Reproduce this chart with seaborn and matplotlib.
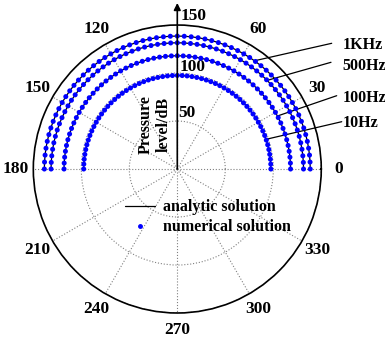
import numpy as np
import pandas as pd
import matplotlib
matplotlib.use("Agg")
import matplotlib.pyplot as plt
import seaborn as sns

# radii (dB) of each frequency curve
frequencies = ["10Hz", "100Hz", "500Hz", "1KHz"]
levels = [97.5, 118.0, 131.5, 138.5]
angles_deg = np.arange(0, 181, 3)

angle_ticks = [0, 30, 60, 90, 120, 150, 180, 210, 240, 270, 300, 330]
angle_labels = ["0", "30", "60", "", "120", "150", "180", "210", "240", "270", "300", "330"]
r_ticks = [50, 100, 150]

# table for seaborn
rows = []
for f, lv in zip(frequencies, levels):
    for a in angles_deg:
        rows.append({"freq": f, "theta": np.deg2rad(a), "level": lv})
df = pd.DataFrame(rows)

sns.set_style("white")
plt.rcParams["font.family"] = ["Liberation Serif", "DejaVu Serif"]
plt.rcParams["font.weight"] = "bold"
plt.rcParams["text.color"] = "black"
plt.rcParams["xtick.color"] = "black"
plt.rcParams["ytick.color"] = "black"
FS = 12.5   # numbers
FT = 11.5   # words
plt.rcParams["font.size"] = FS

fig = plt.figure(figsize=(3.85, 3.42), dpi=100)
ax = fig.add_axes([0.0865, 0.0848, 0.748, 0.842], projection="polar")

# analytic solution lines
for f in frequencies:
    sub = df[df["freq"] == f]
    sns.lineplot(x=sub["theta"], y=sub["level"], ax=ax, color="black", lw=0.9,
                 sort=False, estimator=None, legend=False)
# numerical solution dots
sns.scatterplot(data=df, x="theta", y="level", ax=ax, color="#0000ff", s=13,
                edgecolor="none", legend=False, zorder=5)

ax.set_ylim(0, 150)
ax.set_xlabel("")
ax.set_ylabel("")
ax.set_thetagrids(angle_ticks, angle_labels, fontweight="bold", fontsize=FS,
                  color="black")
ax.tick_params(axis="x", pad=2)
ax.set_rgrids(r_ticks, labels=[""] * len(r_ticks))
ax.grid(True, color="gray", linestyle=":", linewidth=0.8)
ax.spines["polar"].set_linewidth(1.2)
ax.spines["polar"].set_color("black")

# radial labels along the vertical axis
for rv, rr, aa in zip(r_ticks, [59, 107, 160], [80, 81.5, 84]):
    ax.text(np.deg2rad(aa), rr, str(rv), ha="center", va="center",
            fontsize=FS, fontweight="bold")

# vertical arrow
ax.annotate("", xy=(np.pi / 2, 173), xytext=(0, 0),
            arrowprops=dict(arrowstyle="-|>", color="black", lw=1.2,
                            mutation_scale=10, shrinkA=0, shrinkB=0),
            annotation_clip=False, zorder=6)
ax.text(np.deg2rad(117), 52, "Pressure\nlevel/dB", rotation=90, ha="center",
        va="center", fontsize=FT, fontweight="bold", linespacing=1.2)

# curve labels with leader lines
label_y = [0.640, 0.713, 0.807, 0.868]
point_angles = [18.5, 27.9, 44.6, 54.5]
line_start = [(341.7, 121.7), (336.7, 95.7), (331, 62.3), (331.7, 43.3)]
for f, lv, pa, ty, (lx, ly) in zip(frequencies, levels, point_angles, label_y, line_start):
    ax.annotate("", xy=(np.deg2rad(pa), lv), xytext=(lx / 385, 1 - ly / 342),
                textcoords="figure fraction",
                arrowprops=dict(arrowstyle="-", color="black", lw=0.9,
                                shrinkA=0, shrinkB=0),
                annotation_clip=False)
    fig.text(0.889, ty, f, ha="left", va="center", fontsize=FT, fontweight="bold")

# legend
h1, = ax.plot([], [], color="black", lw=0.9, label="analytic solution")
h2, = ax.plot([], [], ls="none", marker="o", ms=2.5, color="#0000ff",
              label="numerical solution")
fig.legend(handles=[h1, h2], loc="center", bbox_to_anchor=(0.54, 0.365),
           frameon=False, handlelength=1.9, handletextpad=0.5, labelspacing=0.25,
           prop={"weight": "bold", "size": FT})

fig.savefig("out.png", dpi=100)
